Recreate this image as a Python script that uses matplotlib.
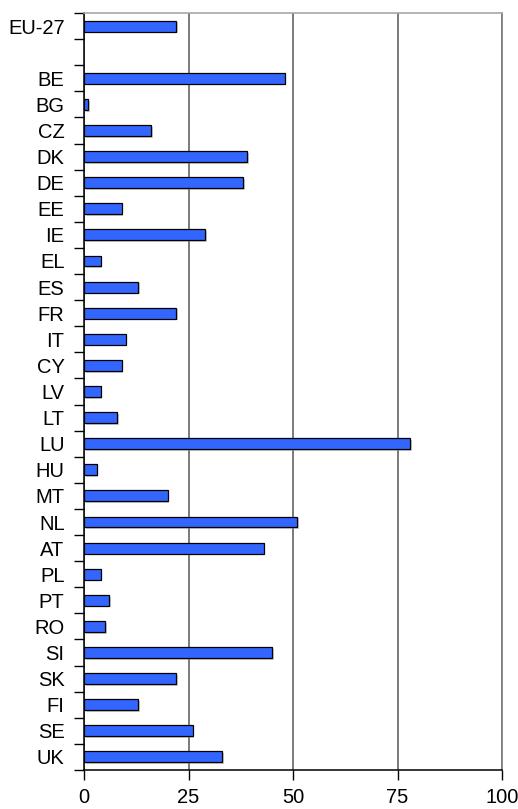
import matplotlib
matplotlib.use("Agg")
import matplotlib.pyplot as plt
import matplotlib.patheffects as pe
import numpy as np

plt.rcParams['font.family'] = ['Liberation Sans', 'DejaVu Sans']

# Country codes (top to bottom); empty string leaves a gap after EU-27
categories = ["EU-27", "", "BE", "BG", "CZ", "DK", "DE", "EE", "IE", "EL", "ES",
              "FR", "IT", "CY", "LV", "LT", "LU", "HU", "MT", "NL", "AT",
              "PL", "PT", "RO", "SI", "SK", "FI", "SE", "UK"]
values = [22, np.nan, 48, 1, 16, 39, 38, 9, 29, 4, 13,
          22, 10, 9, 4, 8, 78, 3, 20, 51, 43,
          4, 6, 5, 45, 22, 13, 26, 33]
x_ticks = [0, 25, 50, 75, 100]

fig = plt.figure(figsize=(5.18, 8.09), dpi=100)
ax = fig.add_axes([84 / 518, 1 - 770 / 809, 418 / 518, 757 / 809])

n = len(categories)
pos = np.arange(n)
mask = ~np.isnan(values)
vals = np.array(values, dtype=float)
bars = ax.barh(pos[mask], vals[mask], height=0.42, color="#3366FF",
               edgecolor="black", linewidth=0.9, zorder=3)
for b in bars:
    b.set_path_effects([pe.SimplePatchShadow(offset=(1.2, -1.2), shadow_rgbFace="#999999", alpha=0.5),
                        pe.Normal()])

ax.set_ylim(n - 0.5, -0.5)
ax.set_xlim(0, 100)

# Category labels centred in each slot, tick marks on slot boundaries
ax.set_yticks(np.arange(-0.5, n, 1.0))
ax.set_yticklabels([])
ax.set_yticks(pos, minor=True)
ax.set_yticklabels(categories, minor=True, fontsize=14.5)
ax.tick_params(axis="y", which="major", length=7, width=1, color="black", direction="out")
ax.tick_params(axis="y", which="minor", length=0, pad=14)

ax.set_xticks(x_ticks)
ax.set_xticklabels([str(t) for t in x_ticks], fontsize=14.5)
ax.tick_params(axis="x", length=7, width=1, color="black", direction="out", pad=6)

ax.xaxis.grid(True, color="#707070", linewidth=1.3, zorder=0)
ax.set_axisbelow(True)

ax.spines["left"].set_color("black")
ax.spines["bottom"].set_color("black")
ax.spines["left"].set_linewidth(1.1)
ax.spines["bottom"].set_linewidth(1.1)
ax.spines["top"].set_color("#a8a8a8")
ax.spines["right"].set_color("#808080")
ax.spines["top"].set_linewidth(1.2)
ax.spines["right"].set_linewidth(1.3)

fig.savefig("out.png", dpi=100)
